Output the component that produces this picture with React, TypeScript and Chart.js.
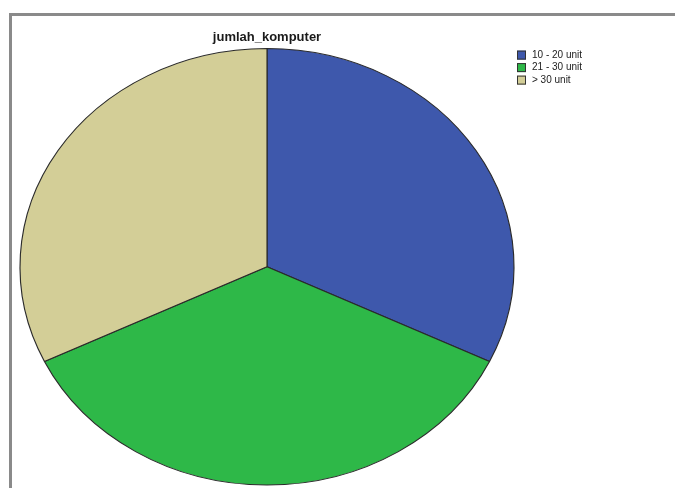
import React, { useEffect, useRef } from "react";
import { Chart, registerables } from "chart.js";

Chart.register(...registerables);

const TITLE = "jumlah_komputer";
const categories = ["10 - 20 unit", "21 - 30 unit", "> 30 unit"];
const counts = [9, 10, 9];
const colors = ["#3E58AC", "#2EB848", "#D3CE97"];

// Stretches the round pie to fill the (wide) chart area as an ellipse.
const ellipsePlugin = {
  id: "ellipsePie",
  beforeDatasetsDraw(chart: any) {
    const meta = chart.getDatasetMeta(0);
    const arc: any = meta.data[0];
    if (!arc) return;
    const ca = chart.chartArea;
    const r = arc.outerRadius;
    const sx = ca.width / 2 / r;
    const sy = ca.height / 2 / r;
    const ctx = chart.ctx;
    ctx.save();
    ctx.translate(arc.x, arc.y);
    ctx.scale(sx, sy);
    ctx.translate(-arc.x, -arc.y);
  },
  afterDatasetsDraw(chart: any) {
    chart.ctx.restore();
  },
};

const legendPlugin = {
  id: "spssLegend",
  afterDraw(chart: any) {
    const { ctx, chartArea } = chart;
    const ds = chart.data.datasets[0];
    const x = chartArea.right + 3;
    const top = chartArea.top + 6.5;
    const step = 12.5;
    const box = 9;
    ctx.save();
    ctx.font = '10px "Liberation Sans", Arial, sans-serif';
    ctx.textBaseline = "middle";
    ctx.textAlign = "left";
    (chart.data.labels as string[]).forEach((label, i) => {
      const y = top + i * step;
      ctx.fillStyle = ds.backgroundColor[i];
      ctx.fillRect(x, y - box / 2, box, box);
      ctx.strokeStyle = "#333";
      ctx.lineWidth = 1;
      ctx.strokeRect(x + 0.5, y - box / 2 + 0.5, box - 1, box - 1);
      ctx.fillStyle = "#222";
      ctx.fillText(label, x + 15, y);
    });
    ctx.restore();
  },
};

export default function App() {
  const ref = useRef<HTMLCanvasElement | null>(null);

  useEffect(() => {
    if (!ref.current) return;
    const chart = new Chart(ref.current, {
      type: "pie",
      data: {
        labels: categories,
        datasets: [
          {
            data: counts,
            backgroundColor: colors,
            borderColor: "#2a2a2a",
            borderWidth: 1,
          },
        ],
      },
      options: {
        animation: false,
        responsive: false,
        layout: { padding: { top: 30, left: 20, right: 161, bottom: 3 } },
        plugins: {
          legend: { display: false },
          tooltip: { enabled: false },
          title: {
            display: true,
            text: TITLE,
            color: "#1a1a1a",
            font: { family: '"Liberation Sans", Arial, sans-serif', size: 13, weight: "bold", lineHeight: 1.2 },
            padding: { top: 0, bottom: 3 },
          },
        },
      },
      plugins: [ellipsePlugin, legendPlugin],
    });
    return () => chart.destroy();
  }, []);

  return (
    <div style={{ position: "absolute", left: 0, top: 0, width: 675, height: 488, background: "#fff", overflow: "hidden" }}>
      <div
        style={{
          position: "absolute",
          left: 9,
          top: 13,
          width: 700,
          height: 500,
          borderTop: "3px solid #8a8a8a",
          borderLeft: "3px solid #8a8a8a",
        }}
      />
      <canvas ref={ref} width={675} height={488} style={{ position: "absolute", left: 0, top: 0 }} />
    </div>
  );
}
